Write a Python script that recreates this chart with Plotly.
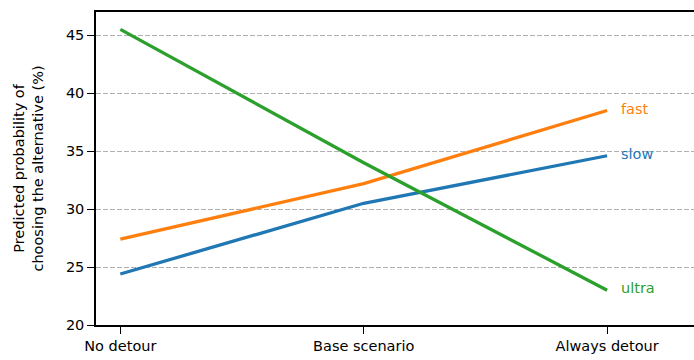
import plotly.graph_objects as go

categories = ["No detour", "Base scenario", "Always detour"]
slow = [24.4, 30.5, 34.6]
fast = [27.4, 32.2, 38.5]
ultra = [45.5, 34.0, 23.0]
series_names = ["slow", "fast", "ultra"]
colors = ["#1f77b4", "#ff7f0e", "#2ca02c"]

xs = [0, 1, 2]
fig = go.Figure()
for name, vals, col in zip(series_names, [slow, fast, ultra], colors):
    fig.add_trace(go.Scatter(x=xs, y=vals, mode="lines", line=dict(color=col, width=3.3),
                             showlegend=False, hoverinfo="skip"))
    fig.add_annotation(x=2.05, y=vals[-1], text=name, showarrow=False, xanchor="left",
                       yanchor="middle", yshift=2, font=dict(color=col, size=14.5))

fig.update_layout(
    width=694, height=360,
    margin=dict(l=96, r=0, t=12, b=35),
    paper_bgcolor="white", plot_bgcolor="white",
    font=dict(family="DejaVu Sans", size=14.5, color="black"),
)
fig.update_xaxes(range=[-0.1, 2.357], tickmode="array", tickvals=xs, ticktext=categories,
                 showline=True, linecolor="black", linewidth=1.5, mirror=True, automargin=False,
                 ticks="outside", ticklen=7, tickcolor="black", tickwidth=1.3,
                 showgrid=False, zeroline=False)
fig.update_yaxes(range=[20, 47], tickvals=[20, 25, 30, 35, 40, 45], automargin=False,
                 showline=True, linecolor="black", linewidth=1.5,
                 ticks="outside", ticklen=7, tickcolor="black", tickwidth=1.3,
                 showgrid=True, gridcolor="#b0b0b0", griddash="5px,2px", gridwidth=1, zeroline=False,
                 title=dict(text="Predicted probability of<br>choosing the alternative (%)",
                            standoff=19, font=dict(size=14.5)))
fig.write_html("out.html", config={"displayModeBar": False},
               post_script="document.body.style.margin='0';document.body.style.overflow='hidden';")
